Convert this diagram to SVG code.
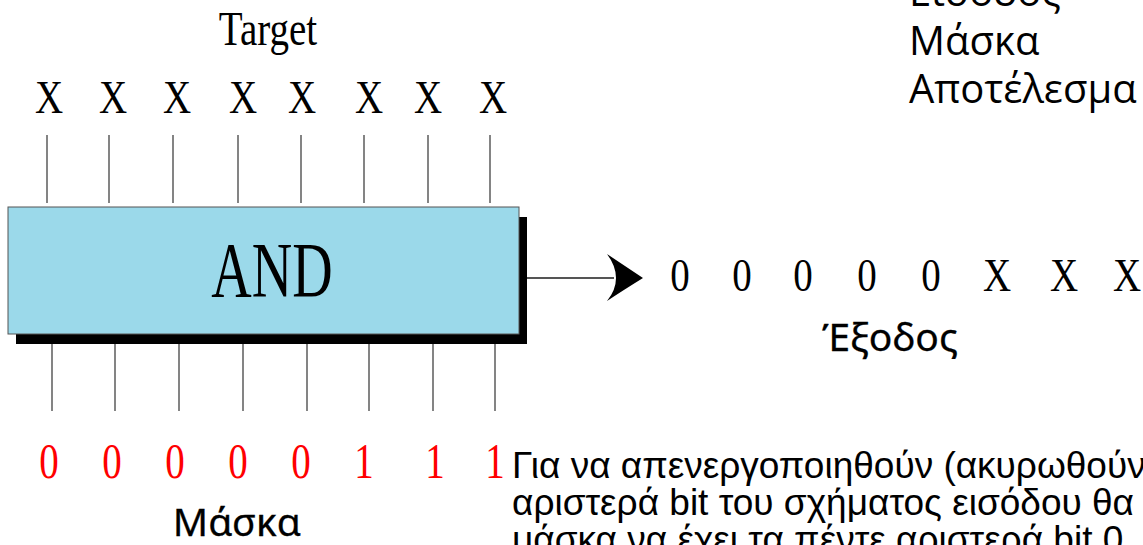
<svg xmlns="http://www.w3.org/2000/svg" width="1143" height="545" viewBox="0 0 1143 545">
  <defs>
    <style>
      .serif { font-family: "Liberation Serif", "Times New Roman", serif; font-size: 39px; fill: #000; text-anchor: middle; }
      .red { fill: #ff0000; }
      .pin { stroke: #666; stroke-width: 1.6; fill: none; }
      .label { font-family: "Noto Sans", "DejaVu Sans", sans-serif; font-size: 39px; fill: #000; text-anchor: middle; stroke: #000; stroke-width: 0.3; }
      .legend { font-family: "Open Sans", "Noto Sans", sans-serif; font-size: 40px; fill: #000; }
      .note { font-family: "Liberation Sans", Arial, sans-serif; font-size: 37px; fill: #000; }
    </style>
  </defs>

  <!-- Legend, top right -->
  <g id="legend">
    <text class="legend" x="909" y="6">Είσοδος</text>
    <text class="legend" x="909" y="55">Μάσκα</text>
    <text class="legend" x="909" y="103">Αποτέλεσμα</text>
  </g>

  <!-- Input operand -->
  <g id="target">
    <text class="serif" transform="translate(268,45) scale(1,1.25)">Target</text>
    <text class="serif" transform="translate(49,113) scale(1,1.2)">X</text>
    <text class="serif" transform="translate(113,113) scale(1,1.2)">X</text>
    <text class="serif" transform="translate(177,113) scale(1,1.2)">X</text>
    <text class="serif" transform="translate(243,113) scale(1,1.2)">X</text>
    <text class="serif" transform="translate(302,113) scale(1,1.2)">X</text>
    <text class="serif" transform="translate(369,113) scale(1,1.2)">X</text>
    <text class="serif" transform="translate(428,113) scale(1,1.2)">X</text>
    <text class="serif" transform="translate(493,113) scale(1,1.2)">X</text>
  </g>

  <!-- AND gate block with drop shadow -->
  <g id="and-gate">
    <rect x="16" y="217" width="511" height="127" fill="#000"/>
    <rect x="8" y="207" width="511" height="127" fill="#9bd9ea" stroke="#555" stroke-width="1"/>
    <text class="serif" style="font-size:56px" transform="translate(272,296) scale(1,1.4)">AND</text>
  </g>

  <!-- Bit lines and output arrow -->
  <g id="connectors">
    <path class="pin" d="M47 135V203 M109 135V203 M173 135V203 M238 135V203 M301 135V203 M364 135V203 M428 135V203 M490 135V203"/>
    <path class="pin" d="M52 344V411 M115 344V411 M179 344V411 M243 344V411 M307 344V411 M369 344V411 M433 344V411 M495 344V411"/>
    <path d="M527 278H614" stroke="#555" stroke-width="2.2" fill="none"/>
    <path d="M643 278 Q622 264 607 254 Q616 266 616 278 Q616 290 607 301 Q622 291 643 278 Z" fill="#000"/>
  </g>

  <!-- Result bits -->
  <g id="output">
    <text class="serif" transform="translate(680,291) scale(1,1.2)">0</text>
    <text class="serif" transform="translate(742,291) scale(1,1.2)">0</text>
    <text class="serif" transform="translate(803,291) scale(1,1.2)">0</text>
    <text class="serif" transform="translate(867,291) scale(1,1.2)">0</text>
    <text class="serif" transform="translate(931,291) scale(1,1.2)">0</text>
    <text class="serif" transform="translate(997,291) scale(1,1.2)">X</text>
    <text class="serif" transform="translate(1064,291) scale(1,1.2)">X</text>
    <text class="serif" transform="translate(1127,291) scale(1,1.2)">X</text>
    <text class="label" x="890" y="351">Έξοδος</text>
  </g>

  <!-- Mask bits -->
  <g id="mask">
    <text class="serif red" transform="translate(49,478) scale(1,1.3)">0</text>
    <text class="serif red" transform="translate(112,478) scale(1,1.3)">0</text>
    <text class="serif red" transform="translate(175,478) scale(1,1.3)">0</text>
    <text class="serif red" transform="translate(238,478) scale(1,1.3)">0</text>
    <text class="serif red" transform="translate(301,478) scale(1,1.3)">0</text>
    <text class="serif red" transform="translate(364,478) scale(1,1.3)">1</text>
    <text class="serif red" transform="translate(435,478) scale(1,1.3)">1</text>
    <text class="serif red" transform="translate(495,478) scale(1,1.3)">1</text>
    <text class="label" x="237" y="536">Μάσκα</text>
  </g>

  <!-- Explanatory note -->
  <g id="note">
    <text class="note" x="512" y="478">Για να απενεργοποιηθούν (ακυρωθούν</text>
    <text class="note" x="512" y="515">αριστερά bit του σχήματος εισόδου θα</text>
    <text class="note" x="512" y="552">μάσκα να έχει τα πέντε αριστερά bit 0</text>
  </g>
</svg>
